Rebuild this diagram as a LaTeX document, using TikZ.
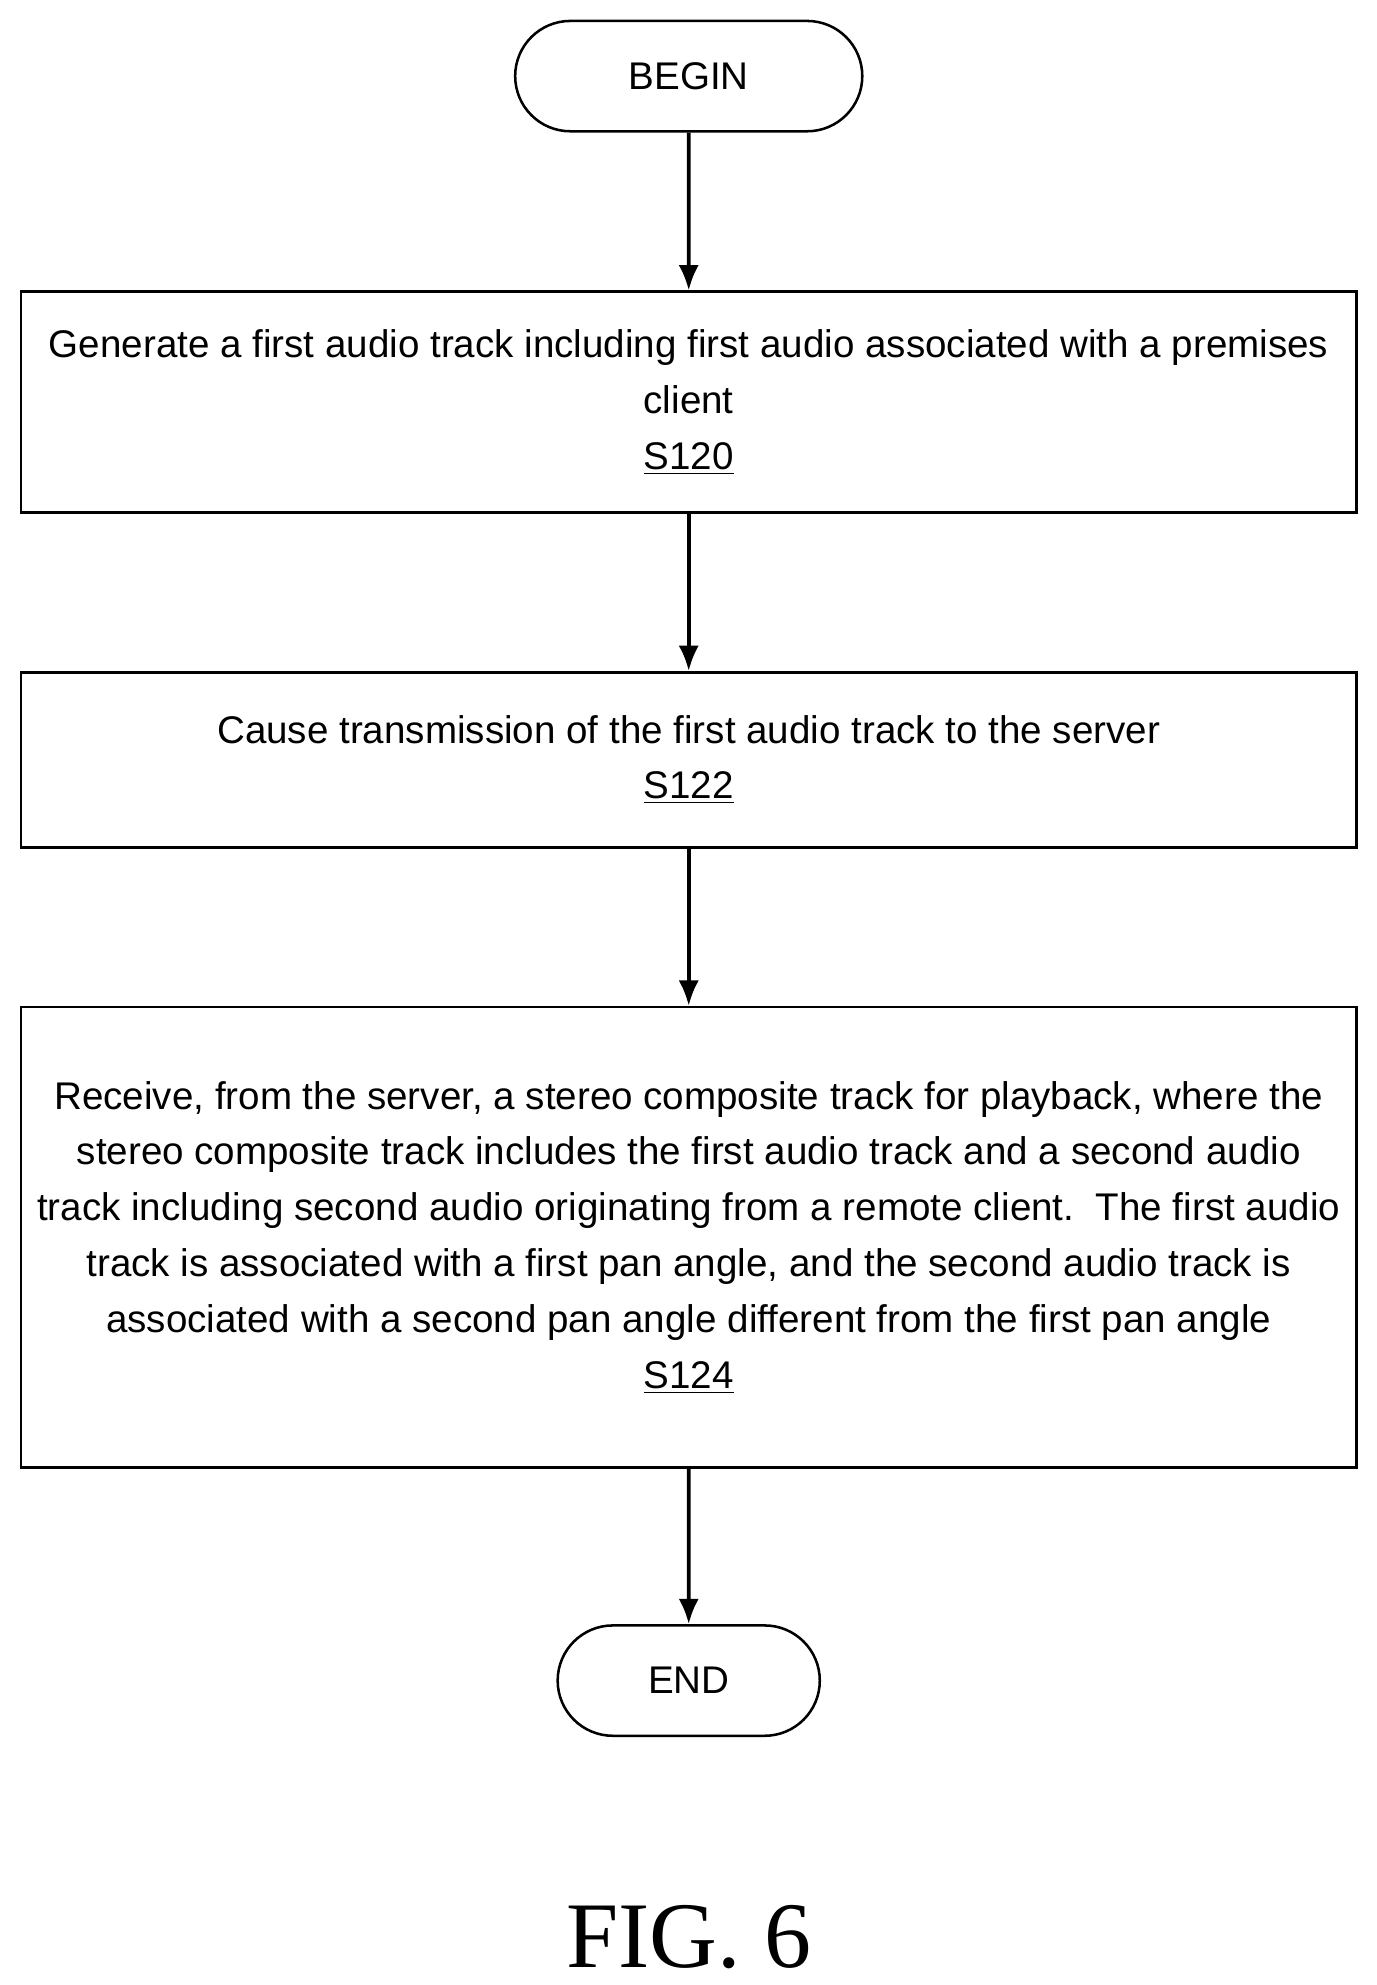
\documentclass[tikz,border=0pt]{standalone}
\usepackage{fontspec}
\setmainfont{Liberation Sans}
\newfontfamily\figfont{Liberation Serif}
\usetikzlibrary{shapes.misc,arrows.meta}
\begin{document}
\begin{tikzpicture}[x=0.5pt,y=-0.5pt,
    procbox/.style={draw, line width=1pt, align=center, font=\fontsize{15.2}{22}\selectfont},
    term/.style={draw, line width=1pt, rounded rectangle, font=\fontsize{15.2}{22}\selectfont},
    flow/.style={-{Latex[length=10pt,width=8pt]}, line width=1.5pt}]
    \useasboundingbox (0,0) rectangle (1085,1565);

    % terminals
    \node[term, minimum width=143.5pt, minimum height=43.5pt] (begin) at (543,60) {BEGIN};
    \node[term, minimum width=110pt, minimum height=43.5pt] (end) at (543,1325) {END};

    % steps
    \node[procbox, minimum width=526.5pt, minimum height=87pt] (s120) at (543,317)
        {Generate a first audio track including first audio associated with a premises\\
         client\\ \underline{S120}};
    \node[procbox, minimum width=526.5pt, minimum height=69pt] (s122) at (543,599)
        {Cause transmission of the first audio track to the server\\ \underline{S122}};
    \node[procbox, minimum width=526.5pt, minimum height=181.5pt] (s124) at (543,975.5)
        {Receive, from the server, a stereo composite track for playback, where the\\
         stereo composite track includes the first audio track and a second audio\\
         track including second audio originating from a remote client.\ \ The first audio\\
         track is associated with a first pan angle, and the second audio track is\\
         associated with a second pan angle different from the first pan angle\\
         \underline{S124}};

    % connectors
    \draw[flow] (begin) -- (s120);
    \draw[flow] (s120) -- (s122);
    \draw[flow] (s122) -- (s124);
    \draw[flow] (s124) -- (end);

    \node[font=\figfont\fontsize{37}{42}\selectfont] (fig) at (543,1527) {FIG. 6};
\end{tikzpicture}
\end{document}
